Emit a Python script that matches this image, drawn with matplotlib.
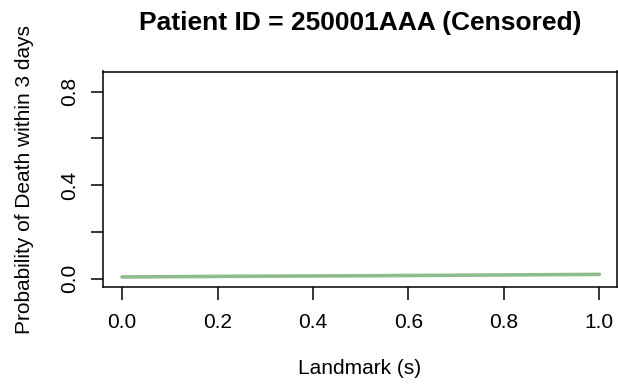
import matplotlib
matplotlib.use("Agg")
import matplotlib.pyplot as plt

# landmark times and predicted probability of death within 3 days
landmark = [0.0, 0.25, 0.5, 0.75, 1.0]
prob_death = [0.007, 0.010, 0.012, 0.015, 0.018]

x_ticks = [0.0, 0.2, 0.4, 0.6, 0.8, 1.0]
y_ticks = [0.0, 0.2, 0.4, 0.6, 0.8]
y_ticklabels = ["0.0", "", "0.4", "", "0.8"]

plt.rcParams['font.family'] = ['Liberation Sans', 'DejaVu Sans']

fig = plt.figure(figsize=(6.18, 3.87), dpi=100)
ax = fig.add_axes([103 / 618, 1 - 287 / 387, (617 - 103) / 618, (287 - 71.5) / 387])

ax.plot(landmark, prob_death, color='#8fbc8f', lw=2.6, solid_capstyle='round')

ax.set_xlim(-0.04, 1.037)
ax.set_ylim(-0.036, 0.886)

ax.set_xticks(x_ticks)
ax.set_xticklabels([f"{v:.1f}" for v in x_ticks])
ax.set_yticks(y_ticks)
ax.set_yticklabels(y_ticklabels, rotation=90, va='center')

ax.tick_params(axis='both', direction='out', length=9, width=1.1, labelsize=15,
               colors='black')
ax.tick_params(axis='x', pad=10)
ax.tick_params(axis='y', pad=8)
for s in ax.spines.values():
    s.set_linewidth(1.1)
    s.set_color('black')

ax.set_title("Patient ID = 250001AAA (Censored)", fontsize=19,
             fontweight='bold', pad=30)
ax.set_xlabel("Landmark (s)", fontsize=15, labelpad=19.5)
ax.set_ylabel("Probability of Death within 3 days", fontsize=15, labelpad=19.3)

fig.savefig("out.png", dpi=100)
